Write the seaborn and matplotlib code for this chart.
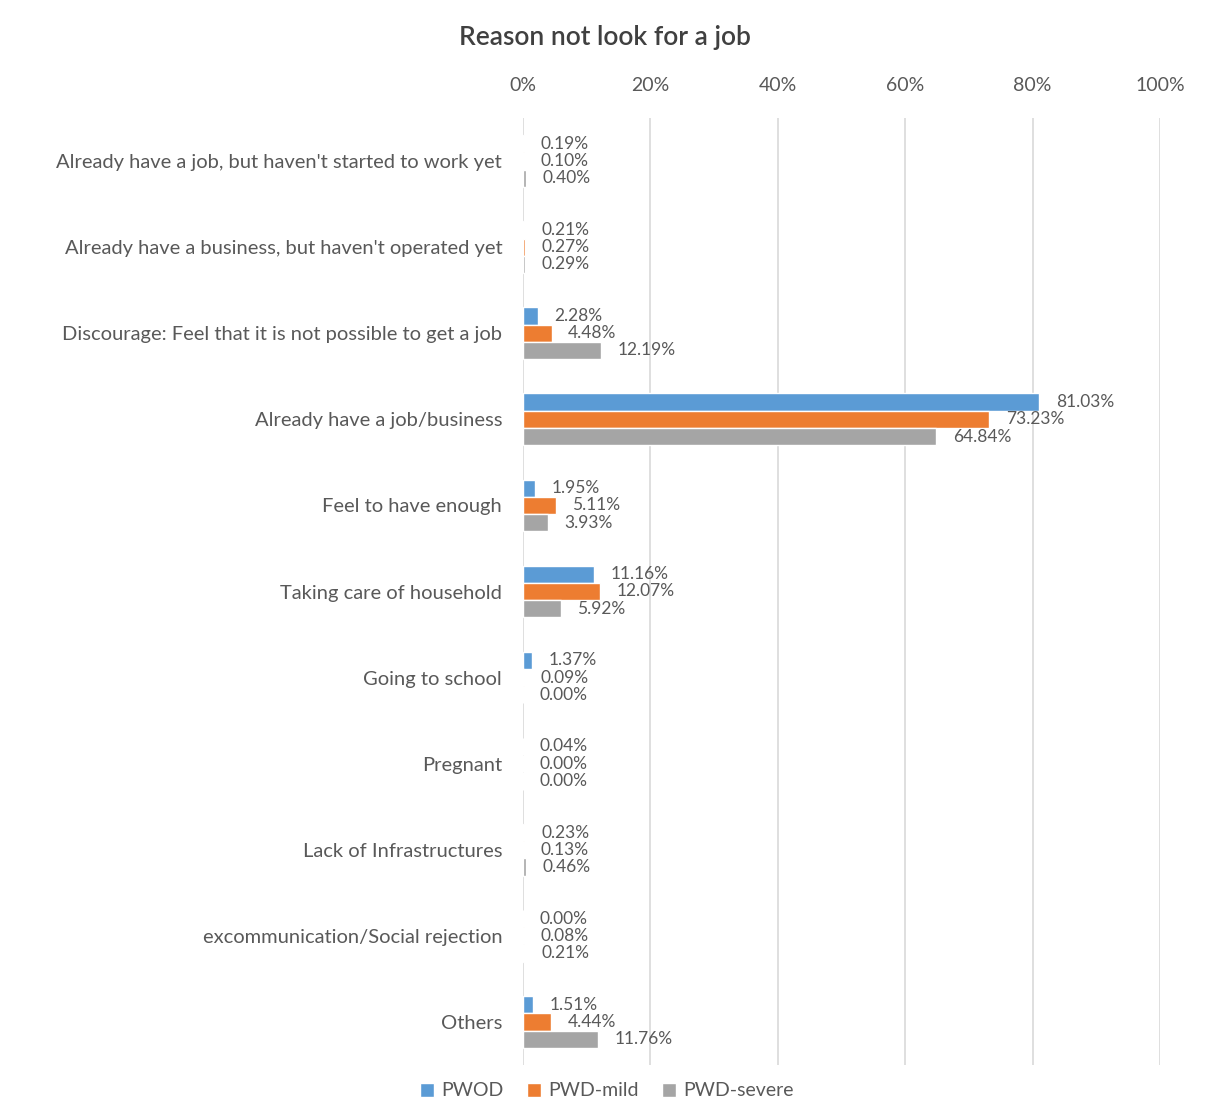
import matplotlib
matplotlib.use("Agg")
import matplotlib.pyplot as plt
import seaborn as sns
import pandas as pd
from matplotlib.ticker import PercentFormatter

categories = [
    "Already have a job, but haven't started to work yet",
    "Already have a business, but haven't operated yet",
    "Discourage: Feel that it is not possible to get a job",
    "Already have a job/business",
    "Feel to have enough",
    "Taking care of household",
    "Going to school",
    "Pregnant",
    "Lack of Infrastructures",
    "excommunication/Social rejection",
    "Others",
]
series_names = ["PWOD", "PWD-mild", "PWD-severe"]
pwod = [0.19, 0.21, 2.28, 81.03, 1.95, 11.16, 1.37, 0.04, 0.23, 0.00, 1.51]
pwd_mild = [0.10, 0.27, 4.48, 73.23, 5.11, 12.07, 0.09, 0.00, 0.13, 0.08, 4.44]
pwd_severe = [0.40, 0.29, 12.19, 64.84, 3.93, 5.92, 0.00, 0.00, 0.46, 0.21, 11.76]
x_ticks = [0, 20, 40, 60, 80, 100]
colors = ["#5B9BD5", "#ED7D31", "#A5A5A5"]
title = "Reason not look for a job"

rows = []
for name, vals in zip(series_names, [pwod, pwd_mild, pwd_severe]):
    for c, v in zip(categories, vals):
        rows.append({"category": c, "series": name, "value": v})
df = pd.DataFrame(rows)

sns.set_theme(style="white")
plt.rcParams["font.family"] = ["Lato", "DejaVu Sans"]
text_color = "#595959"

fig = plt.figure(figsize=(12.27, 11.02), dpi=100)
ax = fig.add_axes([523 / 1227, 1 - 1065 / 1102, (1160 - 523) / 1227, (1065 - 118) / 1102])

sns.barplot(data=df, y="category", x="value", hue="series", order=categories,
            hue_order=series_names, palette=colors, orient="h", width=0.6,
            saturation=1, ax=ax, legend=True)

for cont in ax.containers:
    ax.bar_label(cont, labels=[f"{v:.2f}%" for v in cont.datavalues],
                 padding=12, fontsize=12.5, color=text_color)

ax.set_xlim(0, 100)
ax.set_xticks(x_ticks)
ax.xaxis.set_major_formatter(PercentFormatter(100, decimals=0))
ax.xaxis.tick_top()
ax.tick_params(axis="x", length=0, pad=17, labelsize=14, colors=text_color)
ax.tick_params(axis="y", length=0, pad=15, labelsize=14.5, colors=text_color)
ax.grid(axis="x", color="#D9D9D9", linewidth=1.2)
ax.set_axisbelow(True)
for s in ax.spines.values():
    s.set_visible(False)
ax.set_xlabel("")
ax.set_ylabel("")

leg = ax.get_legend()
handles, labels = ax.get_legend_handles_labels()
leg.remove()
fig.legend(handles, labels, loc="center", bbox_to_anchor=(607 / 1227, 1 - 1091 / 1102),
           ncol=3, frameon=False, fontsize=14, handlelength=0.7, handleheight=0.7,
           handletextpad=0.4, columnspacing=1.2, labelcolor=text_color)

fig.text(605 / 1227, 1 - 37 / 1102, title, ha="center", va="center",
         fontsize=19, color="#404040", fontweight="semibold")

fig.savefig("out.png", dpi=100, facecolor="white")
